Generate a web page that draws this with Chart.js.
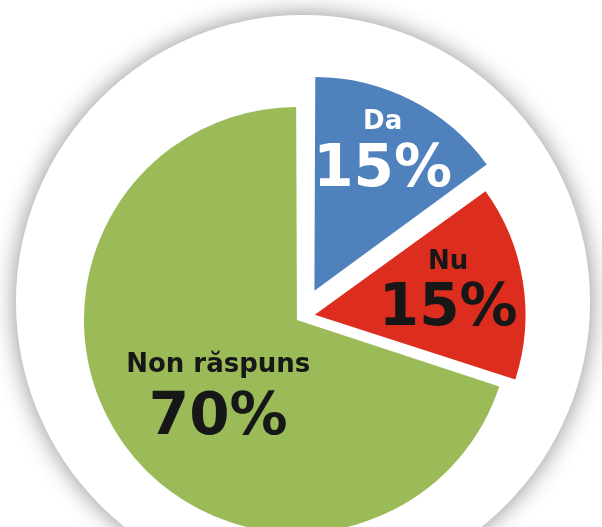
<!DOCTYPE html>
<html><head><meta charset="utf-8">
<script src="https://cdn.jsdelivr.net/npm/chart.js@4/dist/chart.umd.min.js"></script>
<style>html,body{margin:0;padding:0;background:#fff;overflow:hidden}canvas{display:block}</style>
</head><body>
<canvas id="c" width="602" height="527"></canvas>
<script>
// ---- data ----
const categories = ['Da', 'Nu', 'Non răspuns'];
const values = [15, 15, 70];
const valueLabels = ['15%', '15%', '70%'];

// ---- style ----
const colors = ['#4F81BD', '#DC2D1E', '#9BBB59'];
const textColors = ['#FFFFFF', '#171717', '#171717'];
const explode = [118, 56, 20];
const labelPos = [
  {r: 0.723, dAngle: 0, up: 28, down: 29},
  {r: 0.647, dAngle: 1.4, up: 28, down: 28},
  {r: 0.55, dAngle: -10.5, up: 31, down: 31}
];

const backdrop = {
  id: 'backdrop',
  beforeDatasetsDraw(chart, args, opts) {
    const arc = chart.getDatasetMeta(0).data[0];
    if (!arc) return;
    const ctx = chart.ctx;
    ctx.save();
    ctx.beginPath();
    ctx.arc(arc.x + opts.dx, arc.y + opts.dy, arc.outerRadius * opts.scale, 0, Math.PI * 2);
    ctx.fillStyle = '#ffffff';
    ctx.shadowColor = opts.shadowColor;
    ctx.shadowBlur = opts.shadowBlur;
    ctx.fill();
    ctx.restore();
  }
};

const sliceLabels = {
  id: 'sliceLabels',
  afterDatasetsDraw(chart, args, opts) {
    const ctx = chart.ctx;
    chart.getDatasetMeta(0).data.forEach((arc, i) => {
      const mid = (arc.startAngle + arc.endAngle) / 2;
      const t = (arc.options.offset || 0) / 4;
      const ax = arc.x + Math.cos(mid) * t;
      const ay = arc.y + Math.sin(mid) * t;
      const p = labelPos[i];
      const a = mid + p.dAngle * Math.PI / 180;
      const d = p.r * arc.outerRadius;
      const cx = ax + Math.cos(a) * d;
      const cy = ay + Math.sin(a) * d;
      ctx.save();
      ctx.fillStyle = textColors[i];
      ctx.textAlign = 'center';
      ctx.textBaseline = 'alphabetic';
      ctx.font = 'bold 26px "DejaVu Sans"';
      ctx.fillText(categories[i], cx, cy - p.up);
      ctx.font = 'bold 58px "DejaVu Sans"';
      ctx.fillText(valueLabels[i], cx, cy + p.down);
      ctx.restore();
    });
  }
};

new Chart(document.getElementById('c'), {
  type: 'pie',
  data: {
    labels: categories,
    datasets: [{
      data: values,
      backgroundColor: colors,
      borderWidth: 0,
      offset: explode,
      hoverOffset: 0,
      radius: 208,
      clip: false
    }]
  },
  options: {
    responsive: false,
    animation: false,
    devicePixelRatio: 1,
    layout: {padding: {left: 0, right: 0, top: 107, bottom: 0}},
    events: [],
    plugins: {
      legend: {display: false},
      tooltip: {enabled: false},
      title: {display: false},
      backdrop: {dx: 2, dy: -15, scale: 1.38, shadowColor: 'rgba(0,0,0,0.45)', shadowBlur: 24}
    }
  },
  plugins: [backdrop, sliceLabels]
});
</script>
</body></html>
